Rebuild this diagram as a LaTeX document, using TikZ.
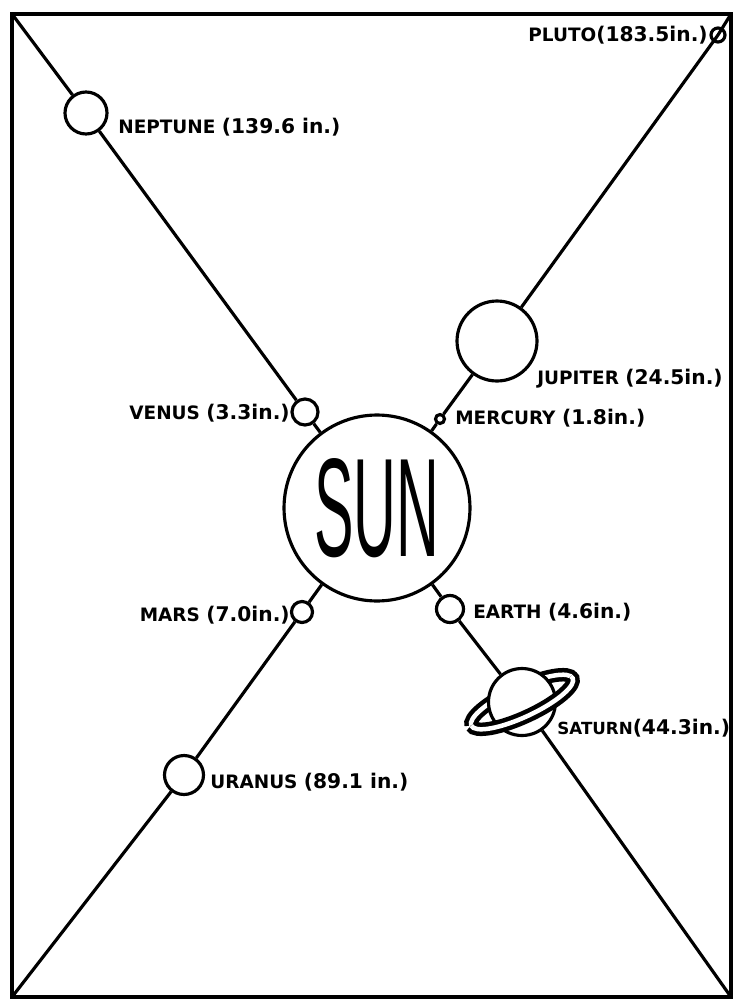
\documentclass[tikz,border=0pt]{standalone}
\usepackage{fontspec}
\setmainfont{DejaVu Sans}
\newfontfamily\sunfont{Liberation Sans}
\usetikzlibrary{backgrounds}

\newcommand\dist[1]{{\fontsize{11.5}{12}\selectfont #1}}

\begin{document}
\begin{tikzpicture}[x=0.02cm,y=-0.02cm,
  frame/.style={black,line width=2.7pt},
  orbit/.style={black,line width=1.8pt},
  planet/.style={circle,draw,fill=white,line width=1.8pt,inner sep=0pt},
  ring/.style={line width=0.09cm,double=white,double distance=0.09cm},
  lbl/.style={inner sep=0pt,font=\fontsize{10.5}{12}\selectfont\bfseries}]
  \useasboundingbox (0,0) rectangle (736,1001);

  % frame corners, the two lines end there
  \coordinate (tl) at (12,14);
  \coordinate (tr) at (731,14);
  \coordinate (bl) at (12,997);
  \coordinate (br) at (731,997);
  \draw[frame] (tl) rectangle (br);

  \node[planet,minimum size=3.72cm] (sun) at (377,508) {};
  \node (sunlbl) at (sun) {\resizebox{2.5cm}{1.96cm}{\sunfont SUN}};

  \node[planet,minimum size=0.84cm] (neptune) at (86,113) {};
  \node[planet,minimum size=0.28cm,fill=none] (pluto) at (718,35) {};
  \node[planet,minimum size=1.6cm] (jupiter) at (497,341) {};
  \node[planet,minimum size=0.52cm] (venus) at (305,412) {};
  \node[planet,minimum size=0.18cm] (mercury) at (440,419) {};
  \node[planet,minimum size=0.42cm] (mars) at (302,612) {};
  \node[planet,minimum size=0.54cm] (earth) at (450,609) {};
  \node[planet,minimum size=1.34cm] (saturn) at (522,702) {};
  \node[planet,minimum size=0.78cm] (uranus) at (184,775) {};

  \begin{scope}[on background layer]
    \draw[orbit] (tl) -- (neptune) -- (venus) -- (sun)
      -- (earth) -- (saturn) -- (br);
    \draw[orbit] (tr) -- (pluto.center) -- (jupiter) -- (mercury)
      -- (sun) -- (mars) -- (uranus) -- (bl);
  \end{scope}

  % Saturn's ring: back half behind the ball, front half over it
  \begin{scope}[on background layer,shift={(saturn.center)},rotate=25]
    \draw[ring] (1.12cm,0)
      arc[start angle=0,end angle=180,x radius=1.12cm,y radius=0.3cm];
  \end{scope}
  \begin{scope}[shift={(saturn.center)},rotate=25]
    \draw[ring] (-1.12cm,0)
      arc[start angle=180,end angle=370,x radius=1.12cm,y radius=0.3cm];
  \end{scope}

  \node[lbl,anchor=west] (neptunelbl) at (118,127) {NEPTUNE \dist{(139.6 in.)}};
  \node[lbl,anchor=east] (plutolbl) at (708,35) {PLUTO\dist{(183.5in.)}};
  \node[lbl,anchor=west] (jupiterlbl) at (537,379) {JUPITER \dist{(24.5in.)}};
  \node[lbl,anchor=east] (venuslbl) at (290,413) {VENUS \dist{(3.3in.)}};
  \node[lbl,anchor=west] (mercurylbl) at (455,418) {MERCURY \dist{(1.8in.)}};
  \node[lbl,anchor=east] (marslbl) at (290,615) {MARS \dist{(7.0in.)}};
  \node[lbl,anchor=west] (earthlbl) at (473,612) {EARTH \dist{(4.6in.)}};
  \node[lbl,anchor=west,font=\fontsize{9.5}{11}\selectfont\bfseries]
    (saturnlbl) at (557,728) {SATURN\dist{(44.3in.)}};
  \node[lbl,anchor=west] (uranuslbl) at (210,782) {URANUS \dist{(89.1 in.)}};
\end{tikzpicture}
\end{document}
